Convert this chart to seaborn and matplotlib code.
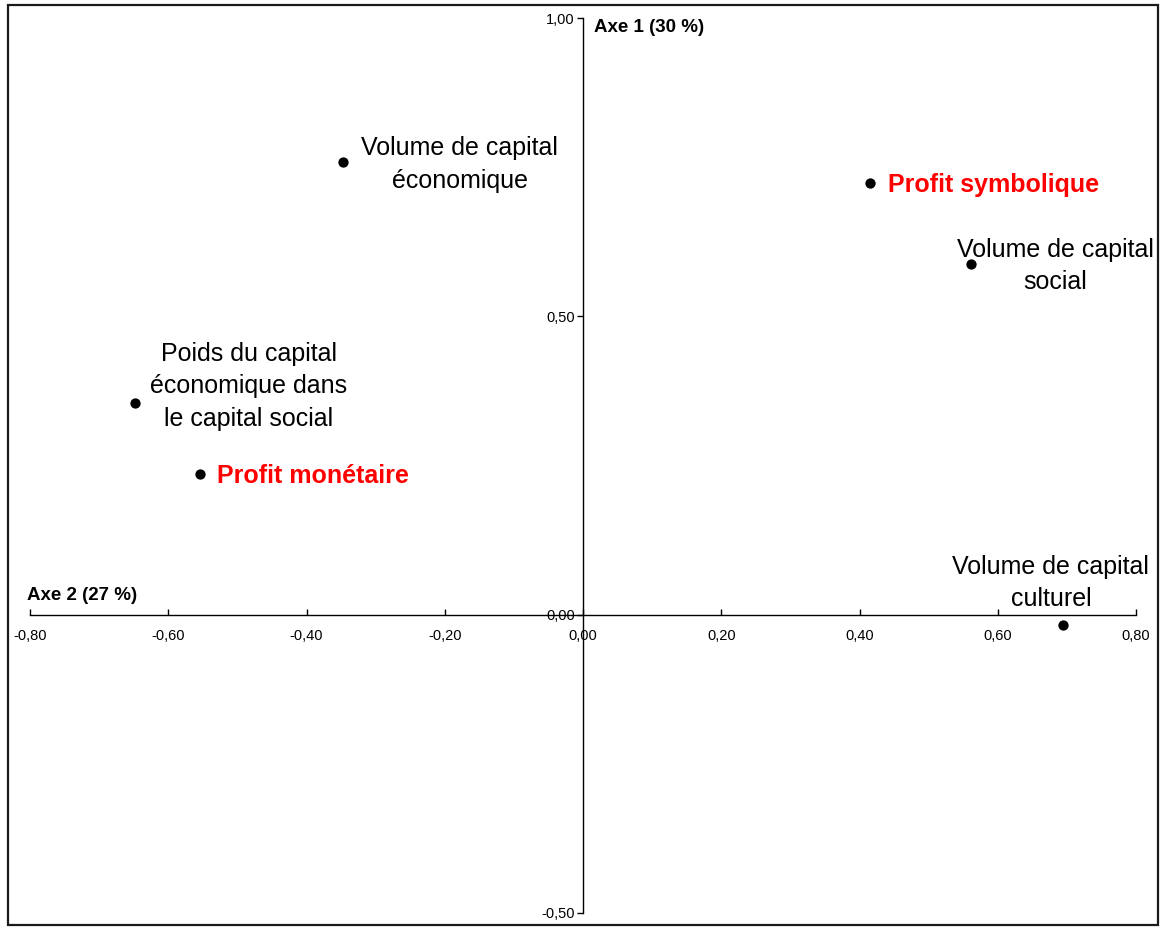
import matplotlib
matplotlib.use("Agg")
import matplotlib.pyplot as plt
import seaborn as sns
import pandas as pd
from matplotlib.patches import Rectangle
from matplotlib.ticker import FuncFormatter

# Variables projected on the first factorial plane
labels = [
    "Volume de capital\néconomique",
    "Profit symbolique",
    "Volume de capital\nsocial",
    "Poids du capital\néconomique dans\nle capital social",
    "Profit monétaire",
    "Volume de capital\nculturel",
]
axe2 = [-0.347, 0.415, 0.561, -0.648, -0.554, 0.695]
axe1 = [0.759, 0.724, 0.588, 0.355, 0.236, -0.017]
is_profit = [False, True, False, False, True, False]

axis_titles = ["Axe 1 (30 %)", "Axe 2 (27 %)"]
x_ticks = [-0.8, -0.6, -0.4, -0.2, 0.0, 0.2, 0.4, 0.6, 0.8]
y_ticks = [-0.5, 0.0, 0.5, 1.0]

df = pd.DataFrame({"label": labels, "axe2": axe2, "axe1": axe1, "profit": is_profit})

sns.set_theme(style="white")
plt.rcParams["font.family"] = ["Liberation Sans", "DejaVu Sans"]
plt.rcParams["text.color"] = "black"
plt.rcParams["xtick.color"] = "black"
plt.rcParams["ytick.color"] = "black"

fig = plt.figure(figsize=(11.65, 9.27), dpi=100)
ax = fig.add_axes([30 / 1165, 1 - 913 / 927, 1106 / 1165, 895 / 927])

sns.scatterplot(data=df, x="axe2", y="axe1", ax=ax, color="black",
                s=55, edgecolor="black", linewidth=0, zorder=3, legend=False)

ax.set_xlim(-0.8, 0.8)
ax.set_ylim(-0.5, 1.0)
ax.set_xticks(x_ticks)
ax.set_yticks(y_ticks)
fmt = FuncFormatter(lambda v, p: f"{v:.2f}".replace(".", ",").replace("-0,00", "0,00"))
ax.xaxis.set_major_formatter(fmt)
ax.yaxis.set_major_formatter(fmt)

for side in ("top", "right"):
    ax.spines[side].set_visible(False)
for side in ("left", "bottom"):
    ax.spines[side].set_position(("data", 0))
    ax.spines[side].set_color("black")
    ax.spines[side].set_linewidth(1.0)

ax.tick_params(axis="x", direction="in", length=4, width=1, color="black",
               labelcolor="black", labelsize=10.5, pad=10, bottom=True)
ax.tick_params(axis="y", direction="out", length=4, width=1, color="black",
               labelcolor="black", labelsize=10.5, pad=2, left=True)
ax.set_xlabel("")
ax.set_ylabel("")
ax.grid(False)

# Label placement (offsets in points from each marker)
offsets = [(13, -2, "left"), (13, -2, "left"), (61, -1.5, "center"),
           (82, 12, "center"), (12, -1.5, "left"), (-9, 30, "center")]
for (_, row), (dx, dy, ha) in zip(df.iterrows(), offsets):
    ax.annotate(row["label"], (row["axe2"], row["axe1"]), xytext=(dx, dy),
                textcoords="offset points", ha=ha, va="center",
                multialignment="center", linespacing=1.45,
                fontsize=18,
                fontweight="bold" if row["profit"] else "normal",
                color="#ff0000" if row["profit"] else "black", zorder=4)

ax.text(594 / 1165, 1 - 27 / 927, axis_titles[0], transform=fig.transFigure,
        ha="left", va="center", fontsize=13.5, fontweight="bold", color="black")
ax.text(27 / 1165, 1 - 596 / 927, axis_titles[1], transform=fig.transFigure,
        ha="left", va="center", fontsize=13.5, fontweight="bold", color="black")

fig.patches.append(Rectangle((7.5 / 1165, 1 - 925 / 927), 1150 / 1165, 920 / 927,
                             transform=fig.transFigure, fill=False,
                             edgecolor="#1a1a1a", linewidth=1.6))

fig.savefig("out.png", dpi=100, facecolor="white")
